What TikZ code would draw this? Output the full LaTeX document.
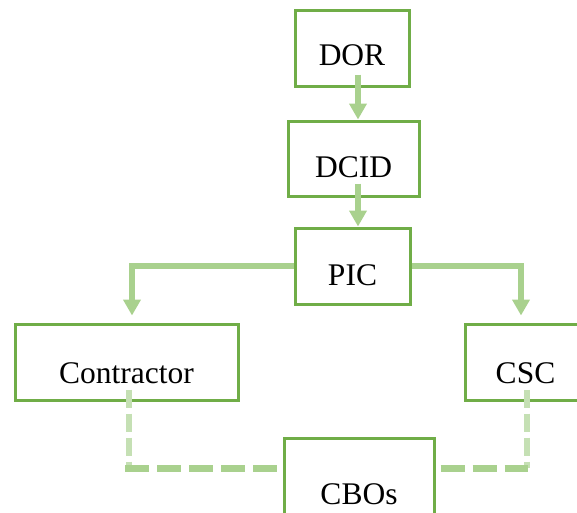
\documentclass[tikz,border=0pt]{standalone}
\usepackage{fontspec}
\setmainfont{Liberation Serif}
\usetikzlibrary{arrows.meta}
\definecolor{boxgreen}{HTML}{70AD47}
\definecolor{flowgreen}{HTML}{A9D18E}
\definecolor{palegreen}{HTML}{C5E0B4}
\begin{document}
\begin{tikzpicture}[x=1pt,y=-1pt,
  unit/.style={draw=boxgreen, line width=3pt, inner sep=0pt,
    font=\fontsize{31.5}{36}\selectfont},
  flow/.style={draw=flowgreen, line width=6.5pt,
    -{Triangle[width=17pt,length=16pt]}, color=flowgreen},
  linkv/.style={draw=palegreen, line width=5.5pt, dash pattern=on 18pt off 6pt},
  linkh/.style={draw=flowgreen, line width=7pt, dash pattern=on 24pt off 8pt}]
\clip (0,0) rectangle (577,512);

% organisation units
\node[unit, minimum width=114pt, text height=55pt, text depth=21pt] (DOR) at (352,48) {DOR};
\node[unit, minimum width=131pt, text height=56pt, text depth=19pt] (DCID) at (353.5,158.5) {DCID};
\node[unit, minimum width=115pt, text height=57pt, text depth=19pt] (PIC) at (352.5,266) {PIC};
\node[unit, minimum width=223pt, text height=59pt, text depth=17pt] (Con) at (126.5,362) {Contractor};
\node[unit, minimum width=121pt, text height=59pt, text depth=17pt] (CSC) at (525.5,362) {CSC};
\node[unit, minimum width=150pt, text height=66pt, text depth=26pt] (CBO) at (359,484) {CBOs};

% reference columns for the connectors
\coordinate (ax) at (358,0);
\coordinate (lx) at (132,0);
\coordinate (rx) at (521,0);
\coordinate (dl) at (129,468);
\coordinate (dr) at (527,468);

% line of command
\draw[flow] ([yshift=13pt]DOR.south -| ax) -- (DCID.north -| ax);
\draw[flow] ([yshift=14pt]DCID.south -| ax) -- (PIC.north -| ax);
\draw[flow] (PIC.west) -| ([yshift=7pt]Con.north -| lx);
\draw[flow] (PIC.east) -| ([yshift=7pt]CSC.north -| rx);

% coordination links with the CBOs
\draw[linkv] ([yshift=12pt]Con.south -| dl) -- (dl);
\draw[linkv] ([yshift=12pt]CSC.south -| dr) -- (dr);
\draw[linkh] ([xshift=-4pt]dl) -- (CBO.west |- dl);
\draw[linkh, dash phase=27pt] (CBO.east |- dr) -- ([xshift=1pt]dr);
\end{tikzpicture}
\end{document}
